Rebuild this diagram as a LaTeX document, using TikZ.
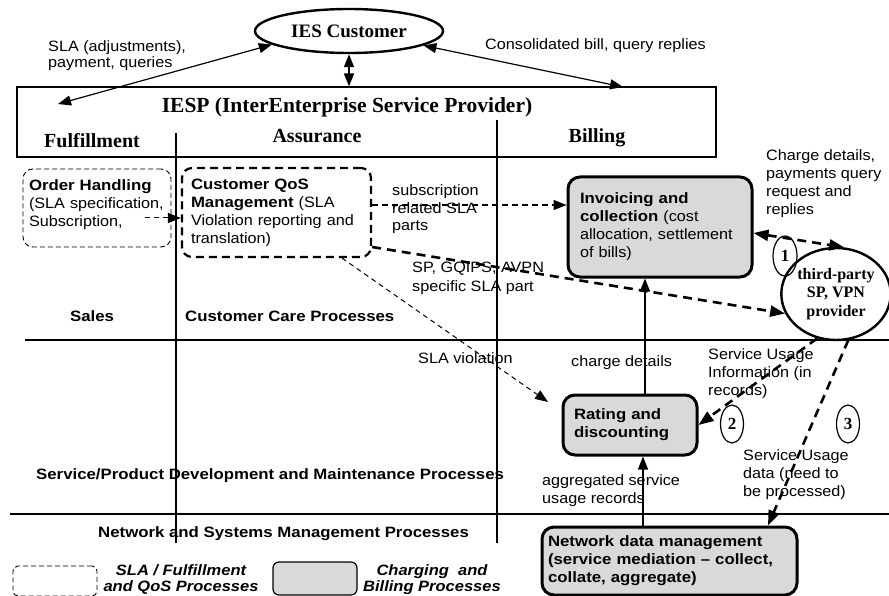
\documentclass[tikz,border=0pt]{standalone}
\usepackage{fontspec}
\setmainfont{Liberation Serif}
\setsansfont{Liberation Sans}[FakeStretch=1.08,BoldFeatures={FakeStretch=1.12},BoldItalicFeatures={FakeStretch=1.1}]
\usetikzlibrary{arrows.meta,shapes.geometric,calc}
\definecolor{boxgray}{RGB}{217,217,217}
\begin{document}
\begin{tikzpicture}[x=1pt,y=-1pt,
  txt/.style={font=\sffamily\fontsize{15}{18}\selectfont, inner sep=0pt, align=left},
  btxt/.style={font=\sffamily\bfseries\fontsize{15}{18}\selectfont, inner sep=0pt, align=left},
  sfb/.style={font=\rmfamily\bfseries\fontsize{#1}{#1}\selectfont, inner sep=0pt, align=center},
  oval/.style={ellipse, draw, line width=2.4pt, inner sep=0pt},
  numoval/.style={ellipse, draw, line width=1.2pt, inner sep=0pt, font=\rmfamily\bfseries\fontsize{17}{17}\selectfont},
  qosbox/.style={draw, line width=2.2pt, dash pattern=on 8pt off 5pt, rounded corners=10pt},
  ordbox/.style={draw, line width=0.9pt, dash pattern=on 5pt off 3pt, rounded corners=10pt},
  billbox/.style={draw, fill=boxgray, line width=3pt, rounded corners=12pt},
  tip/.style={-{Triangle[length=13pt,width=10pt]}},
  btip/.style={{Triangle[length=13pt,width=10pt]}-{Triangle[length=13pt,width=10pt]}},
  arr/.style={line width=1.2pt, tip},
  darr/.style={line width=1.2pt, btip},
  thindash/.style={line width=1pt, dash pattern=on 5pt off 4pt, tip},
  thickdash/.style={line width=2.6pt, dash pattern=on 9pt off 6pt, -{Triangle[length=15pt,width=11pt]}},
  thickddash/.style={line width=2.6pt, dash pattern=on 9pt off 6pt, {Triangle[length=15pt,width=11pt]}-{Triangle[length=15pt,width=11pt]}},
  rule/.style={line width=1.2pt}
]
\useasboundingbox (0,0) rectangle (889,596);
\clip (0,0) rectangle (889,596);

% lanes
\draw[rule] (25,340) coordinate (h1a) -- (889,340) coordinate (h1b);
\draw[rule] (10,514) coordinate (h2a) -- (889,514) coordinate (h2b);

% IESP box
\node[draw, line width=1.2pt, minimum width=699pt, minimum height=70pt, inner sep=0pt] (iesp) at (366.5,122) {};
\draw[rule] (176,133) coordinate (v1a) -- (176,543) coordinate (v1b);
\draw[rule] (497,120) coordinate (v2a) -- (497,543) coordinate (v2b);
\node[sfb=21.5] (iespt) at (347,107) {IESP (InterEnterprise Service Provider)};
\node[sfb=20] (ful) at (92,141) {Fulfillment};
\node[sfb=20] (asr) at (317,136) {Assurance};
\node[sfb=20] (bil) at (597,138) {Billing};

% customer
\node[oval, minimum width=188pt, minimum height=44pt, font=\rmfamily\bfseries\fontsize{19}{19}\selectfont] (ies) at (349,31) {IES Customer};

% process boxes
\node[ordbox, txt, minimum height=78pt, text width=136pt, inner xsep=6pt] (ord) at (97,208)
  {\textbf{Order Handling}\\(SLA specification,\\Subscription,\\[-9pt]\mbox{}};
\node[qosbox, txt, minimum height=89pt, text width=171pt, inner xsep=9pt] (qos) at (276.5,212.5)
  {\textbf{Customer QoS}\\\textbf{Management} (SLA\\Violation reporting and\\translation)};
\node[billbox, txt, minimum height=100pt, text width=160pt, inner xsep=12pt] (inv) at (660,227)
  {\textbf{Invoicing and}\\\textbf{collection} (cost\\allocation, settlement\\of bills)};
\node[billbox, btxt, minimum height=60pt, text width=112pt, inner xsep=11pt] (rat) at (630,425)
  {Rating and\\discounting};
\node[billbox, btxt, minimum height=68pt, text width=243pt, inner xsep=6pt] (net) at (669.5,561)
  {Network data management\\(service mediation -- collect,\\collate, aggregate)};

% third party
\node[oval, minimum width=108pt, minimum height=92pt, align=center, font=\rmfamily\bfseries\fontsize{16}{18.5}\selectfont] (tp) at (836,294) {third-party\\SP, VPN\\provider};

% numbers
\node[numoval, minimum width=24pt, minimum height=40pt] (n1) at (785,256) {1};
\node[numoval, minimum width=23pt, minimum height=38pt] (n2) at (732,424) {2};
\node[numoval, minimum width=23pt, minimum height=38pt] (n3) at (848,424) {3};

% lane labels
\node[btxt] (sales) at (92,316) {Sales};
\node[btxt, anchor=west] (ccp) at (185,316) {Customer Care Processes};
\node[btxt, anchor=west] (spd) at (36,476) {Service/Product Development and Maintenance Processes};
\node[btxt, anchor=west] (nsm) at (98,534) {Network and Systems Management Processes};

% connectors
\coordinate (fulA) at (58,104);
\coordinate (bilA) at (623,87);
\draw[darr] (ies.190) -- (fulA);
\draw[darr] (ies.349) -- (bilA);
\draw[darr, line width=1.6pt] (ies.south) -- (ies.south |- iesp.north);

\coordinate (ohs) at (145,218);
\draw[arr, line width=1pt, dash pattern=on 5pt off 4pt] (ohs) -- (ohs -| qos.west);
\draw[arr, dash pattern=on 6pt off 4pt] (qos.east |- 0,205) -- (inv.west |- 0,205);
\draw[thickdash] (qos.east |- 0,247) -- (tp.201);
\coordinate (sv) at (548,402);
\draw[thindash] (342,0 |- qos.south) -- (sv);
\draw[arr] (645,0 |- rat.north) -- (645,0 |- inv.south);
\draw[arr] (643,0 |- net.north) -- (643,0 |- rat.south);
\draw[thickddash] (inv.east |- 0,233) -- (tp.80);
\draw[thickdash] (tp.247) -- (rat.east);
\draw[thickdash] (tp.285) -- (768,0 |- net.north);

% connector labels
\node[txt, anchor=west, font=\sffamily\fontsize{15}{15.5}\selectfont] (l1) at (48,55.5) {SLA (adjustments),\\payment, queries};
\node[txt, anchor=west] (l2) at (485,46) {Consolidated bill, query replies};
\node[txt, anchor=west, font=\sffamily\fontsize{15}{17.5}\selectfont] (l3) at (392,209.5) {subscription\\related SLA\\parts};
\node[txt, anchor=west, font=\sffamily\fontsize{15}{19}\selectfont] (l4) at (412,278.5) {SP, GQIPS, AVPN\\specific SLA part};
\node[txt, anchor=west] (l5) at (766,184) {Charge details,\\payments query\\request and\\replies};
\node[txt, anchor=west] (l6) at (418,358) {SLA violation};
\node[txt, anchor=west] (l7) at (571,363) {charge details};
\node[txt, anchor=west] (l8) at (708,374) {Service Usage\\Information (in\\records)};
\node[txt, anchor=west] (l9) at (542,491) {aggregated service\\usage records};
\node[txt, anchor=west] (l10) at (743,475) {Service Usage\\data (need to\\be processed)};

% legend
\node[draw, line width=0.9pt, dash pattern=on 5pt off 3pt, rounded corners=5pt, minimum width=84pt, minimum height=30pt, inner sep=0pt] (lg1) at (55,581) {};
\node[txt, align=center, font=\sffamily\bfseries\itshape\fontsize{15}{16}\selectfont] (lg1t) at (181,580) {SLA / Fulfillment\\and QoS Processes};
\node[draw, fill=boxgray, line width=1.2pt, rounded corners=6pt, minimum width=84pt, minimum height=33pt, inner sep=0pt] (lg2) at (315,578.5) {};
\node[txt, align=center, font=\sffamily\bfseries\itshape\fontsize{15}{16}\selectfont] (lg2t) at (432,580) {Charging~ and\\Billing Processes};
\end{tikzpicture}
\end{document}
